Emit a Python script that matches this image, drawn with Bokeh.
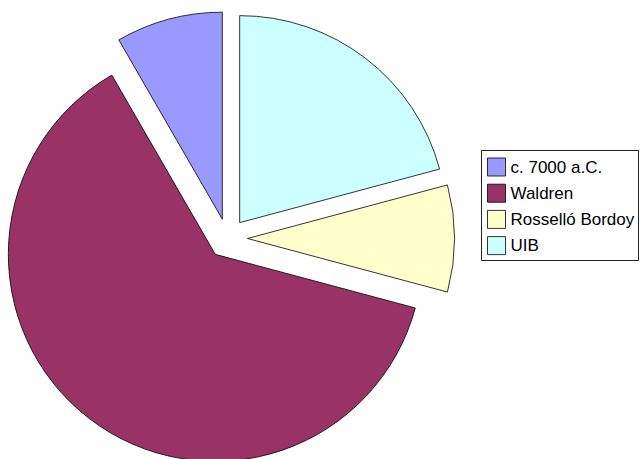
import math
from bokeh.plotting import figure
from bokeh.models import Range1d, ColumnDataSource
from bokeh.embed import file_html
from bokeh.resources import INLINE
from bokeh.core.properties import value

# ---- data ----
categories = ["c. 7000 a.C.", "Waldren", "Rosselló Bordoy", "UIB"]
counts = [4, 30, 4, 10]
colors = ["#9999FF", "#993366", "#FFFFCC", "#CCFFFF"]

# ---- layout constants (pixel-like data units, y measured up from image bottom) ----
W, H = 640, 459
IMG_H = 459
CX, CY = 227, IMG_H - 238
R = 207
EXPLODE = 20

p = figure(width=W, height=H, output_backend="svg", toolbar_location=None,
           x_range=Range1d(0, W), y_range=Range1d(IMG_H - H, IMG_H),
           min_border=0, x_axis_location=None, y_axis_location=None)
p.grid.visible = False
p.outline_line_color = None
p.background_fill_color = "white"
p.border_fill_color = "white"

total = float(sum(counts))
xs, ys, ss, es = [], [], [], []
a = math.pi / 2
for v in counts:
    sweep = 2 * math.pi * v / total
    s, e = a, a + sweep
    mid = (s + e) / 2
    xs.append(CX + EXPLODE * math.cos(mid))
    ys.append(CY + EXPLODE * math.sin(mid))
    ss.append(s)
    es.append(e)
    a = e

src = ColumnDataSource(dict(x=xs, y=ys, s=ss, e=es, color=colors, cat=categories))
p.wedge(x="x", y="y", radius=R, start_angle="s", end_angle="e",
        direction="anticlock", fill_color="color", line_color="black",
        line_width=0.8, source=src)

# ---- legend ----
LX0, LX1, LY0, LY1 = 481, 638, 150, 260
p.rect(x=[(LX0 + LX1) / 2], y=[IMG_H - (LY0 + LY1) / 2], width=[LX1 - LX0],
       height=[LY1 - LY0], fill_color="white", line_color="#222222", line_width=1)
row_y = [IMG_H - (166.5 + 26.2 * i) for i in range(len(categories))]
lsrc = ColumnDataSource(dict(y=row_y, color=colors, cat=categories))
p.rect(x=496, y="y", width=18, height=18, fill_color="color", line_color="black",
       line_width=0.8, source=lsrc)
p.text(x=510, y="y", text="cat", text_font=value("Liberation Sans"),
       text_font_size="17px", text_baseline="middle", text_align="left",
       text_color="black", source=lsrc)

open("out.html", "w").write(file_html(p, INLINE))
